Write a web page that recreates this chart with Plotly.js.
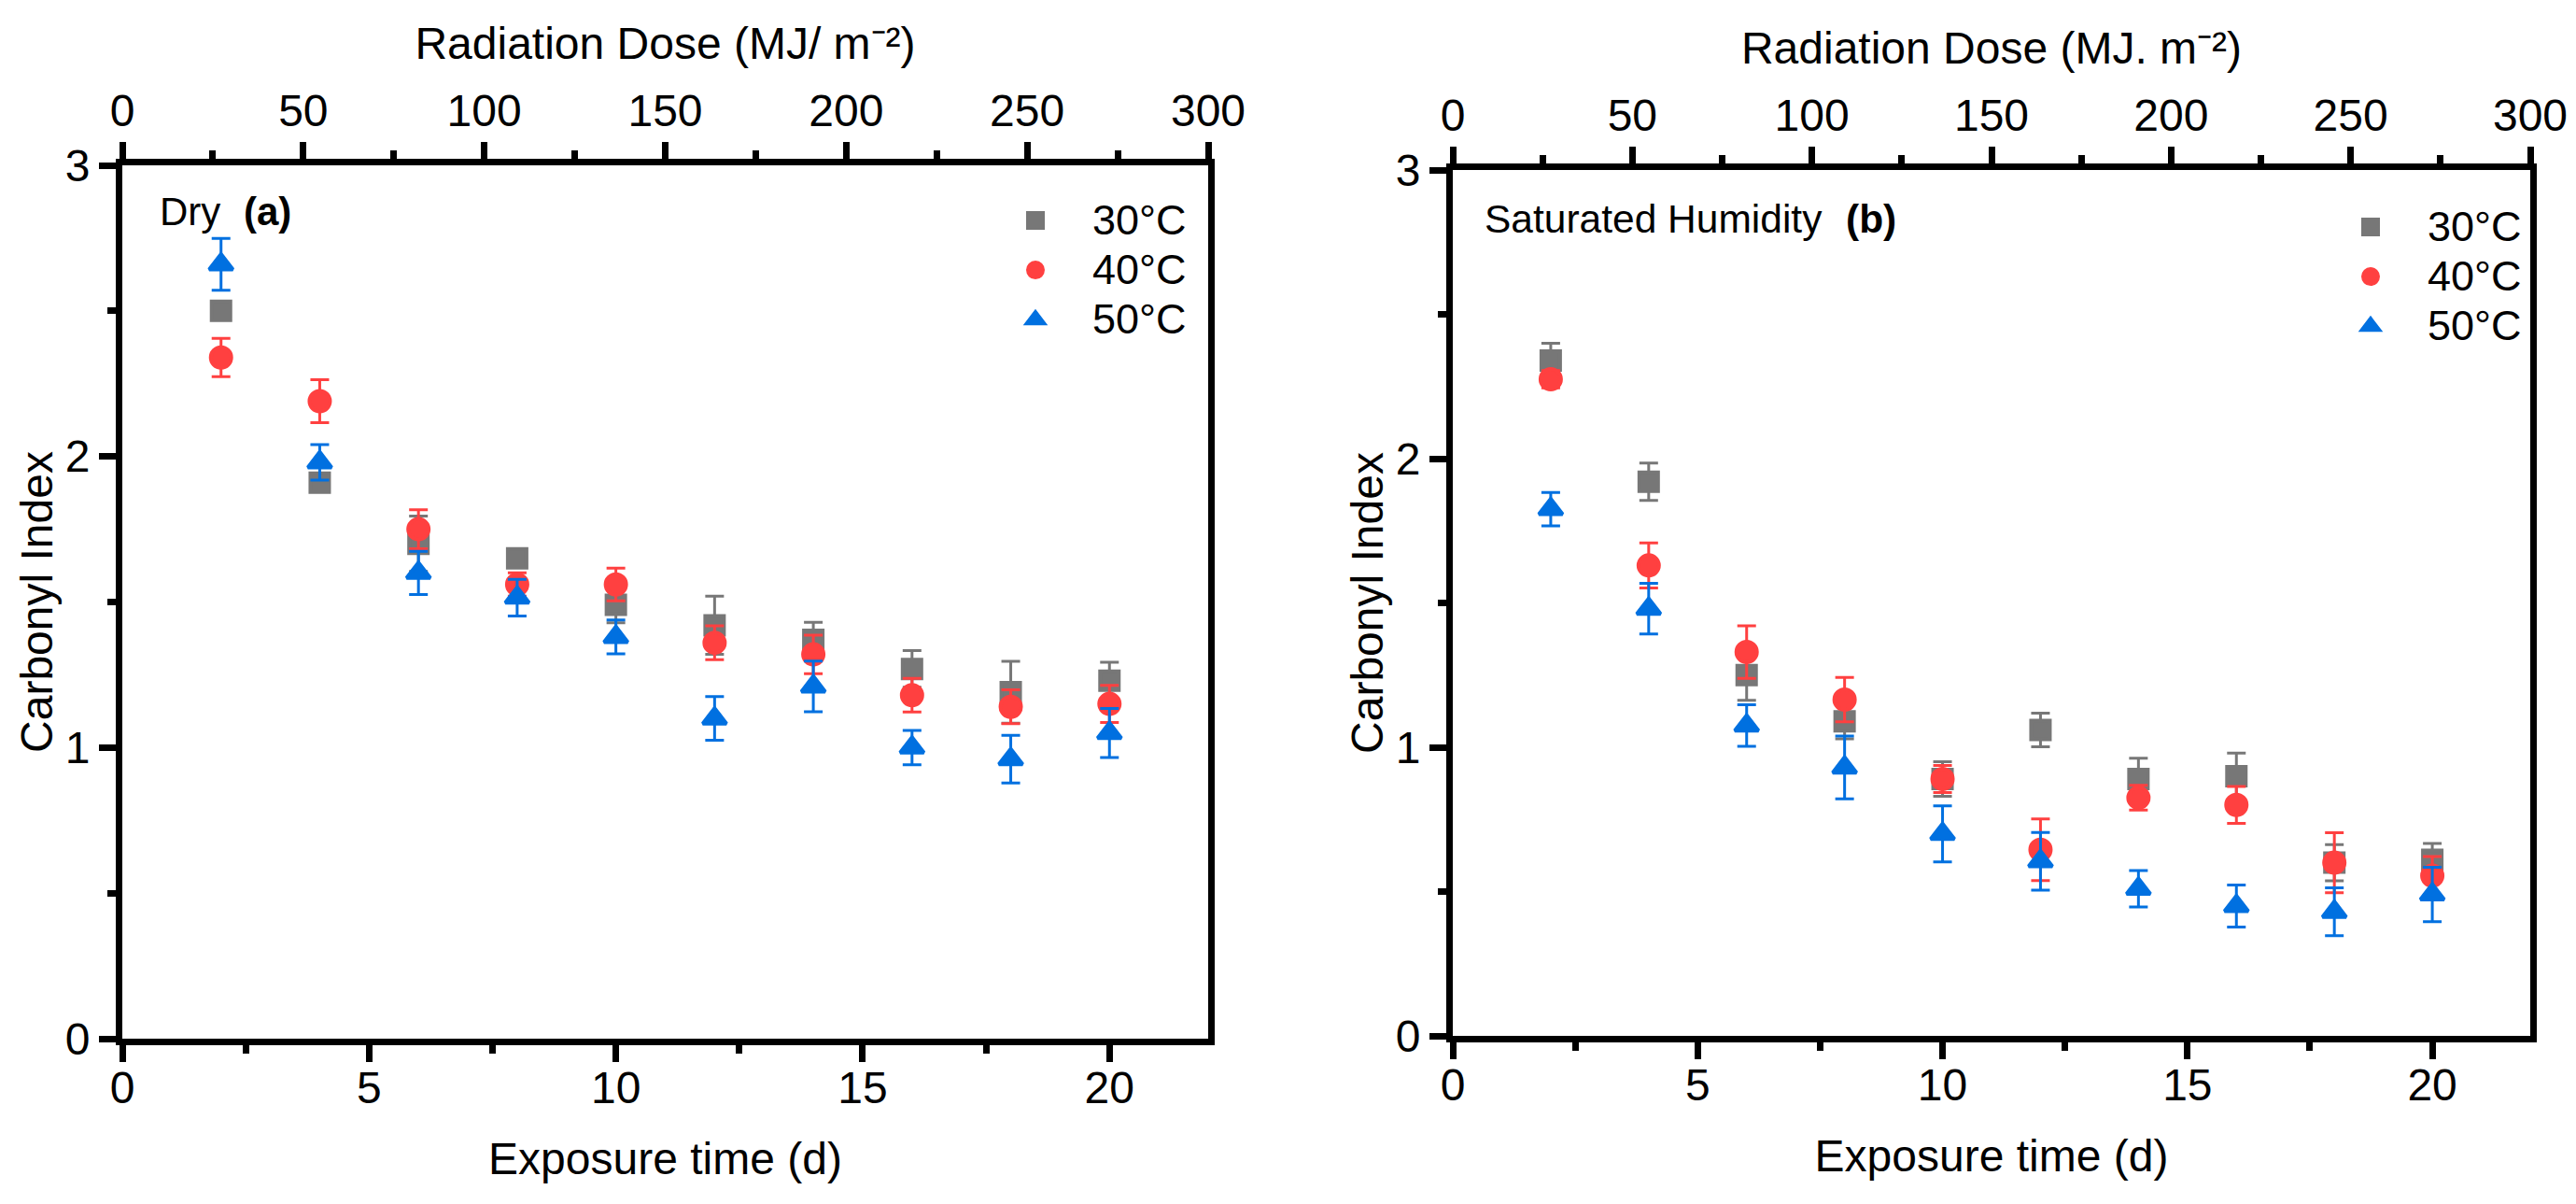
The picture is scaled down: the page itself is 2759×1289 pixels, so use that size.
<!DOCTYPE html>
<html>
<head>
<meta charset="utf-8">
<script src="https://cdn.plot.ly/plotly-3.0.1.min.js"></script>
<style>html,body{margin:0;padding:0;background:#fff;}#chart{width:2759px;height:1289px;}</style>
</head>
<body>
<div id="chart"></div>
<script>
// Exposure time (days)
var days = [2, 4, 6, 8, 10, 12, 14, 16, 18, 20];
var seriesNames = ['30°C', '40°C', '50°C'];

// Panel (a) Dry
var dry30 = [2.50, 1.91, 1.70, 1.65, 1.49, 1.42, 1.37, 1.27, 1.19, 1.23];
var dry30err = [0.03, 0.03, 0.095, 0.03, 0.061, 0.10, 0.06, 0.063, 0.106, 0.063];
var dry40 = [2.34, 2.19, 1.75, 1.56, 1.56, 1.36, 1.32, 1.18, 1.14, 1.15];
var dry40err = [0.066, 0.074, 0.067, 0.04, 0.056, 0.058, 0.066, 0.058, 0.058, 0.064];
var dry50 = [2.66, 1.98, 1.60, 1.515, 1.38, 1.10, 1.21, 1.00, 0.96, 1.05];
var dry50err = [0.089, 0.061, 0.074, 0.063, 0.058, 0.075, 0.087, 0.059, 0.082, 0.084];

// Panel (b) Saturated Humidity
var sat30 = [2.34, 1.92, 1.25, 1.09, 0.89, 1.06, 0.89, 0.90, 0.60, 0.61];
var sat30err = [0.06, 0.065, 0.087, 0.061, 0.06, 0.058, 0.072, 0.08, 0.063, 0.057];
var sat40 = [2.275, 1.63, 1.33, 1.165, 0.89, 0.645, 0.825, 0.80, 0.60, 0.555];
var sat40err = [0.03, 0.078, 0.091, 0.077, 0.047, 0.107, 0.043, 0.064, 0.104, 0.066];
var sat50 = [1.825, 1.48, 1.075, 0.93, 0.70, 0.605, 0.51, 0.45, 0.43, 0.49];
var sat50err = [0.058, 0.088, 0.072, 0.109, 0.097, 0.10, 0.063, 0.073, 0.083, 0.094];

// Tick values
var dayTicks = [0, 5, 10, 15, 20];
var doseTicks = [0, 50, 100, 150, 200, 250, 300];
var ciTicks = [0, 1, 2, 3];

var FONT = 'Liberation Sans, Arial, sans-serif';
var colors = ['#777777', '#FF4040', '#0070E0'];
var symbols = ['square', 'circle', 'triangle-up'];
var sizes = [20, 22, 22];

function mk(y, err, i, xa, ya, leg) {
  return {
    type: 'scatter', mode: 'markers',
    x: days, y: y, xaxis: xa, yaxis: ya, legend: leg,
    name: '<span style="font-size:45px">' + seriesNames[i] + '</span>',
    marker: {symbol: symbols[i], size: sizes[i], color: colors[i],
             line: {color: colors[i], width: 4}},
    error_y: {type: 'data', array: err, symmetric: true, visible: true,
              color: colors[i], thickness: 3, width: 10}
  };
}
// empty carrier traces so the top (radiation dose) axes are drawn
function carrier(xa, ya) {
  return {type: 'scatter', mode: 'markers', x: [null], y: [null], xaxis: xa, yaxis: ya,
          showlegend: false, hoverinfo: 'skip'};
}

var data = [
  mk(dry30, dry30err, 0, 'x', 'y', 'legend'),
  mk(dry40, dry40err, 1, 'x', 'y', 'legend'),
  mk(dry50, dry50err, 2, 'x', 'y', 'legend'),
  mk(sat30, sat30err, 0, 'x3', 'y2', 'legend2'),
  mk(sat40, sat40err, 1, 'x3', 'y2', 'legend2'),
  mk(sat50, sat50err, 2, 'x3', 'y2', 'legend2'),
  carrier('x2', 'y'),
  carrier('x4', 'y2')
];

function axBase(extra) {
  var a = {
    showline: true, linewidth: 7, linecolor: '#000',
    ticks: 'outside', ticklen: 18, tickwidth: 7, tickcolor: '#000',
    showgrid: false, zeroline: false,
    tickfont: {family: FONT, size: 48, color: '#000'},
    fixedrange: true
  };
  for (var k in extra) a[k] = extra[k];
  return a;
}
var minorStyle = function (d) { return {dtick: d, ticks: 'outside', ticklen: 9, tickwidth: 7, tickcolor: '#000', showgrid: false}; };

var W = 2759, H = 1289;
var xdomA = [131 / W, 1294 / W], ydomA = [(H - 1112) / H, (H - 177) / H];
var xdomB = [1556 / W, 2710 / W], ydomB = [(H - 1109) / H, (H - 182) / H];

var layout = {
  width: W, height: H,
  margin: {l: 0, r: 0, t: 0, b: 0},
  paper_bgcolor: '#fff', plot_bgcolor: '#fff',
  font: {family: FONT, color: '#000'},
  xaxis: axBase({domain: xdomA, anchor: 'y', range: [0, 22], tickmode: 'array', tickvals: dayTicks,
    minor: minorStyle(2.5), ticklabelstandoff: -14,
    title: {text: 'Exposure time (d)', font: {family: FONT, size: 48}, standoff: 36}}),
  xaxis2: axBase({overlaying: 'x', anchor: 'y', side: 'top', range: [0, 300], tickmode: 'array', tickvals: doseTicks,
    minor: minorStyle(25), ticklabelstandoff: -2,
    title: {text: 'Radiation Dose (MJ/ m⁻²)', font: {family: FONT, size: 48}, standoff: 15}}),
  yaxis: axBase({domain: ydomA, anchor: 'x', range: [0, 3], tickmode: 'array', tickvals: ciTicks, mirror: true,
    minor: minorStyle(0.5),
    title: {text: 'Carbonyl Index', font: {family: FONT, size: 48}, standoff: 0}}),
  xaxis3: axBase({domain: xdomB, anchor: 'y2', range: [0, 22], tickmode: 'array', tickvals: dayTicks,
    minor: minorStyle(2.5), ticklabelstandoff: -14,
    title: {text: 'Exposure time (d)', font: {family: FONT, size: 48}, standoff: 36}}),
  xaxis4: axBase({overlaying: 'x3', anchor: 'y2', side: 'top', range: [0, 300], tickmode: 'array', tickvals: doseTicks,
    minor: minorStyle(25), ticklabelstandoff: -2,
    title: {text: 'Radiation Dose (MJ. m⁻²)', font: {family: FONT, size: 48}, standoff: 15}}),
  yaxis2: axBase({domain: ydomB, anchor: 'x3', range: [0, 3], tickmode: 'array', tickvals: ciTicks, mirror: true,
    minor: minorStyle(0.5),
    title: {text: 'Carbonyl Index', font: {family: FONT, size: 48}, standoff: 0}}),
  legend: {x: 1048 / W, y: (H - 204.5) / H, xanchor: 'left', yanchor: 'top', bgcolor: 'rgba(0,0,0,0)',
    font: {family: FONT, size: 38.5}, itemwidth: 112, tracegroupgap: 0},
  legend2: {x: 2478 / W, y: (H - 211.5) / H, xanchor: 'left', yanchor: 'top', bgcolor: 'rgba(0,0,0,0)',
    font: {family: FONT, size: 38.5}, itemwidth: 112, tracegroupgap: 0},
  showlegend: true,
  annotations: [
    {xref: 'paper', yref: 'paper', x: 169 / W, y: (H - 227) / H, xanchor: 'left', yanchor: 'middle',
     text: 'Dry', showarrow: false, font: {family: FONT, size: 42}},
    {xref: 'paper', yref: 'paper', x: 259 / W, y: (H - 227) / H, xanchor: 'left', yanchor: 'middle',
     text: '(a)', showarrow: false, font: {family: FONT, size: 42, weight: 'bold'}},
    {xref: 'paper', yref: 'paper', x: 1588 / W, y: (H - 234) / H, xanchor: 'left', yanchor: 'middle',
     text: 'Saturated Humidity', showarrow: false, font: {family: FONT, size: 42.5}},
    {xref: 'paper', yref: 'paper', x: 1975 / W, y: (H - 234) / H, xanchor: 'left', yanchor: 'middle',
     text: '(b)', showarrow: false, font: {family: FONT, size: 42.5, weight: 'bold'}}
  ]
};

Plotly.newPlot('chart', data, layout, {displayModeBar: false, staticPlot: true});
</script>
</body>
</html>
